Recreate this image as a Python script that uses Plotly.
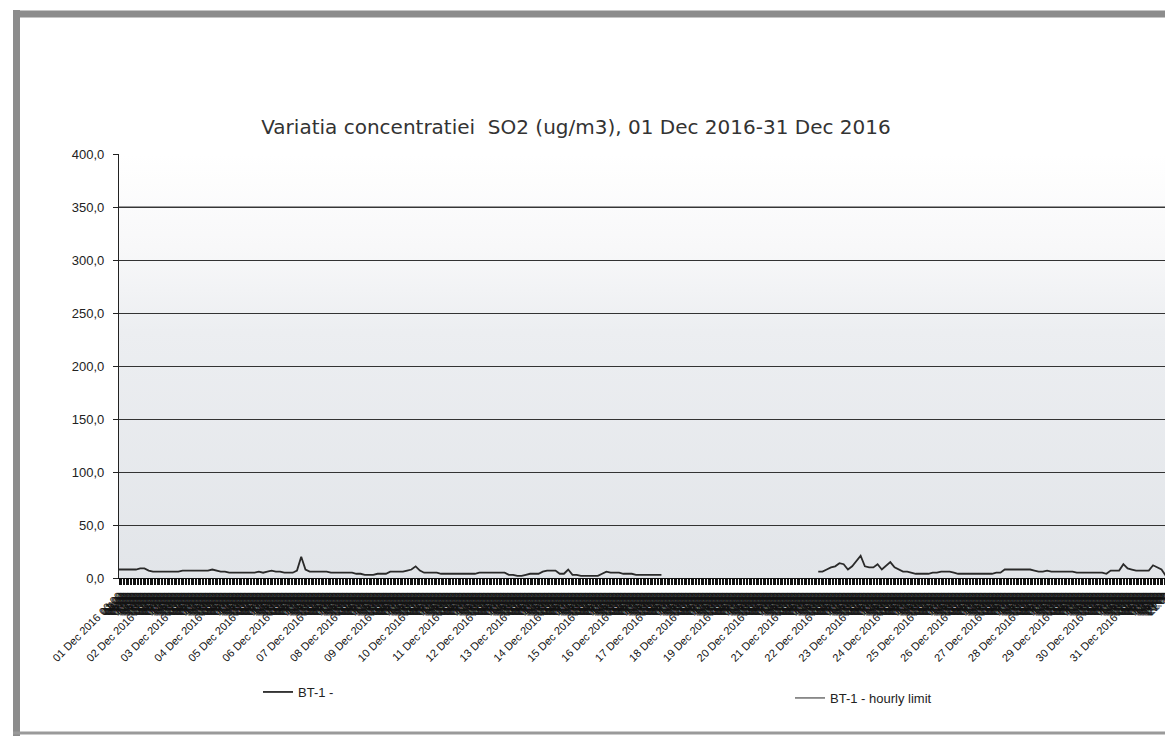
import base64
import plotly.graph_objects as go

# ---------------- data ----------------
days = [f"{d:02d} Dec 2016" for d in range(1, 32)]
hours_in_period = 744          # 31 days x 24 h
sample_step = 3                # values read every 3 hours

# SO2 concentration (ug/m3), one value every 3 hours (8 per day); None = no data
so2 = [
    8, 8, 8, 8, 8, 9, 9, 7,          # 01 Dec
    6, 6, 6, 6, 6, 6, 6, 7,          # 02
    7, 7, 7, 7, 7, 7, 8, 7,          # 03
    6, 6, 5, 5, 5, 5, 5, 5,          # 04
    5, 6, 5, 6, 7, 6, 6, 5,          # 05
    5, 5, 7, 20, 8, 6, 6, 6,         # 06
    6, 6, 5, 5, 5, 5, 5, 5,          # 07
    4, 4, 3, 3, 3, 4, 4, 4,          # 08
    6, 6, 6, 6, 7, 8, 11, 7,         # 09
    5, 5, 5, 5, 4, 4, 4, 4,          # 10
    4, 4, 4, 4, 4, 5, 5, 5,          # 11
    5, 5, 5, 5, 3, 3, 2, 2,          # 12
    3, 4, 4, 4, 6, 7, 7, 7,          # 13
    4, 4, 8, 3, 3, 2, 2, 2,          # 14
    2, 2, 4, 6, 5, 5, 5, 4,          # 15
    4, 4, 3, 3, 3, 3, 3, 3,          # 16
    3, None, None, None, None, None, None, None,            # 17
    None, None, None, None, None, None, None, None,         # 18
    None, None, None, None, None, None, None, None,         # 19
    None, None, None, None, None, None, None, None,         # 20
    None, None, None, None, None, 6, 6, 8,                  # 21
    10, 11, 14, 13, 8, 11, 16, 21,   # 22
    11, 10, 10, 13, 8, 12, 15, 10,   # 23
    8, 6, 6, 5, 4, 4, 4, 4,          # 24
    5, 5, 6, 6, 6, 5, 4, 4,          # 25
    4, 4, 4, 4, 4, 4, 4, 5,          # 26
    5, 8, 8, 8, 8, 8, 8, 8,          # 27
    7, 6, 6, 7, 6, 6, 6, 6,          # 28
    6, 6, 5, 5, 5, 5, 5, 5,          # 29
    5, 4, 7, 7, 7, 13, 9, 8,         # 30
    7, 7, 7, 7, 12, 10, 8, 2,        # 31
]
hourly_limit = 350.0
y_ticks = [0, 50, 100, 150, 200, 250, 300, 350, 400]

# ---------------- build ----------------
x_so2 = [i * sample_step for i in range(len(so2))]
x_limit = [0, hours_in_period]

tick_vals = list(range(hours_in_period))
tick_text = []
for h in tick_vals:
    d, hh = divmod(h, 24)
    if hh == 0:
        tick_text.append(f"{days[d]} 00:00")
    else:
        tick_text.append(f"{hh:02d}:00")

# page-pixel layout (browser body has an 8px margin)
OFF = 8
W, H = 1173 - OFF, 740 - OFF
AX_L, AX_R, AX_T, AX_B = 119, 1170, 154, 578   # page px of plot area
L = AX_L - OFF
R = W - (AX_R - OFF)
T = AX_T - OFF
B = H - (AX_B - OFF)
pw, ph = AX_R - AX_L, AX_B - AX_T


def px_x(p):
    return (p - AX_L) / pw


def px_y(p):
    return (AX_B - p) / ph


svg = ('<svg xmlns="http://www.w3.org/2000/svg" width="10" height="100" '
       'viewBox="0 0 10 100" preserveAspectRatio="none"><defs>'
       '<linearGradient id="g" x1="0" y1="0" x2="0" y2="1">'
       '<stop offset="0" stop-color="#ffffff"/>'
       '<stop offset="0.22" stop-color="#f8f8f9"/>'
       '<stop offset="0.42" stop-color="#eceef1"/>'
       '<stop offset="1" stop-color="#e2e5e9"/>'
       '</linearGradient></defs>'
       '<rect x="0" y="0" width="10" height="100" fill="url(#g)"/></svg>')
bg_uri = "data:image/svg+xml;base64," + base64.b64encode(svg.encode()).decode()

fig = go.Figure()

fig.add_trace(go.Scatter(
    x=x_so2, y=so2, mode="lines", name="BT-1 -",
    line=dict(color="#2a2a2a", width=1.8), connectgaps=False,
    legend="legend", showlegend=True,
))
fig.add_trace(go.Scatter(
    x=x_limit, y=[hourly_limit, hourly_limit], mode="lines",
    name="BT-1 - hourly limit",
    line=dict(color="#3a3a3a", width=1.1), legend="legend2", showlegend=True,
))

fig.update_layout(
    width=W, height=H,
    showlegend=True,
    margin=dict(l=L, r=R, t=T, b=B, autoexpand=False),
    paper_bgcolor="white", plot_bgcolor="white",
    separators=", ",
    font=dict(family="Liberation Sans, Arial", size=13, color="#222"),
    title=dict(text="Variatia concentratiei  SO2 (ug/m3), 01 Dec 2016-31 Dec 2016",
               font=dict(family="DejaVu Sans", size=20, color="#333"),
               x=px_x(576), xref="paper", xanchor="center",
               y=1 - (127 - OFF) / H, yref="container", yanchor="middle"),
    images=[dict(source=bg_uri, xref="paper", yref="paper", x=0, y=1,
                 sizex=1, sizey=1, sizing="stretch", xanchor="left",
                 yanchor="top", layer="below")],
    xaxis=dict(range=[0, hours_in_period], tickmode="array",
               tickvals=tick_vals, ticktext=tick_text, tickangle=-45,
               ticks="outside", ticklen=6, tickcolor="#111", tickwidth=1,
               tickfont=dict(size=11, color="#111"),
               showgrid=False, zeroline=False, showline=True,
               linecolor="#111", linewidth=1.2),
    yaxis=dict(range=[0, 400], tickmode="array", tickvals=y_ticks,
               tickformat=".1f", ticks="outside", ticklen=5,
               ticklabelstandoff=6,
               tickcolor="#222", tickfont=dict(size=13, color="#222"),
               showgrid=True, gridcolor="#333333", gridwidth=1.2,
               zeroline=False, showline=True, linecolor="#222",
               linewidth=1.2, mirror=True),
    legend=dict(x=px_x(258), y=px_y(692), xanchor="left", yanchor="middle",
                orientation="h", visible=True,
                bgcolor="rgba(0,0,0,0)", font=dict(size=13, color="#222")),
    legend2=dict(x=px_x(790), y=px_y(698), xanchor="left", yanchor="middle",
                 orientation="h", visible=True,
                 bgcolor="rgba(0,0,0,0)", font=dict(size=13, color="#222")),
    shapes=[
        dict(type="line", xref="paper", yref="paper",
             x0=px_x(16.5), x1=px_x(16.5), y0=px_y(10), y1=px_y(736),
             line=dict(color="#8c8c8c", width=7)),
        dict(type="line", xref="paper", yref="paper",
             x0=px_x(13), x1=px_x(1185), y0=px_y(14), y1=px_y(14),
             line=dict(color="#8c8c8c", width=7)),
        dict(type="line", xref="paper", yref="paper",
             x0=px_x(13), x1=px_x(1185), y0=px_y(733), y1=px_y(733),
             line=dict(color="#9a9a9a", width=3)),
    ],
)

fig.write_html("out.html")
